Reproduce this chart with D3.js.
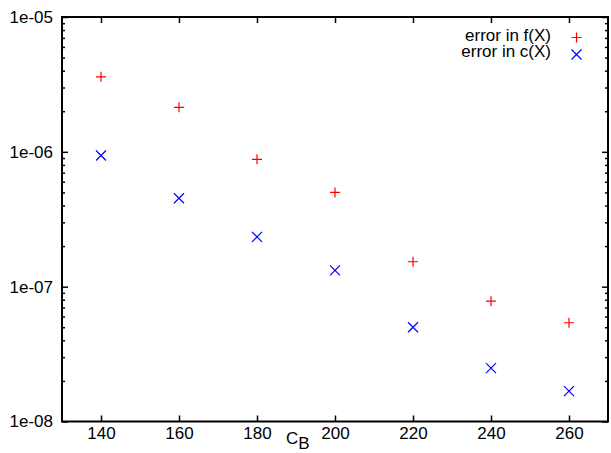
<!DOCTYPE html>
<html><head><meta charset="utf-8">
<script src="https://cdn.jsdelivr.net/npm/d3@7"></script>
<style>body{margin:0;background:#fff}svg{display:block}text{font-family:"Liberation Sans",Arial,Helvetica,sans-serif}</style>
</head><body>
<svg id="c" width="611" height="453"></svg>
<script>
const cb = [140, 160, 180, 200, 220, 240, 260];
const errF = [3.6e-6, 2.14e-6, 8.8e-7, 5.0e-7, 1.53e-7, 7.8e-8, 5.4e-8];
const errC = [9.4e-7, 4.53e-7, 2.34e-7, 1.32e-7, 5.0e-8, 2.49e-8, 1.68e-8];
const xTicks = [140, 160, 180, 200, 220, 240, 260];
const yTicks = [1e-8, 1e-7, 1e-6, 1e-5];
const yTickLabels = ["1e-08", "1e-07", "1e-06", "1e-05"];
const seriesNames = ["error in f(X)", "error in c(X)"];

const svg = d3.select("#c");
const L = 62, R = 608, T = 17, B = 421.5;
const FS = 17;
const x = d3.scaleLinear().domain([130, 270]).range([L, R]);
const y = d3.scaleLog().domain([1e-8, 1e-5]).range([B, T]);

// minor ticks
const minor = [];
for (let e = -8; e < -5; e++) for (let m = 2; m <= 9; m++) minor.push(m * Math.pow(10, e));

const g = svg.append("g");
const xb = d3.axisBottom(x).tickValues(xTicks).tickSize(-6).tickPadding(5.5).tickFormat(d3.format("d"));
const xt = d3.axisTop(x).tickValues(xTicks).tickSize(-6).tickFormat("");
const yl = d3.axisLeft(y).tickValues(yTicks).tickSize(-6).tickPadding(9).tickFormat((d, i) => yTickLabels[i]);
const yr = d3.axisRight(y).tickValues(yTicks).tickSize(-6).tickFormat("");
const ylm = d3.axisLeft(y).tickValues(minor).tickSize(-3).tickFormat("");
const yrm = d3.axisRight(y).tickValues(minor).tickSize(-3).tickFormat("");

function style(sel) {
  sel.select(".domain").remove();
  sel.attr("font-size", FS).attr("font-family", '"Liberation Sans",Arial,Helvetica,sans-serif');
  sel.selectAll("line").attr("stroke", "#000").attr("stroke-width", 1.5);
  sel.selectAll("text").attr("font-size", FS).attr("fill", "#000");
}
g.append("g").attr("transform", `translate(0,${B})`).call(xb).call(style);
g.append("g").attr("transform", `translate(0,${T})`).call(xt).call(style);
g.append("g").attr("transform", `translate(${L},0)`).call(yl).call(style);
g.append("g").attr("transform", `translate(${R},0)`).call(yr).call(style);
g.append("g").attr("transform", `translate(${L},0)`).call(ylm).call(style);
g.append("g").attr("transform", `translate(${R},0)`).call(yrm).call(style);

// border
svg.append("rect").attr("x", L).attr("y", T).attr("width", R - L).attr("height", B - T)
  .attr("fill", "none").attr("stroke", "#000").attr("stroke-width", 2);

// x label
const xl = svg.append("text").attr("x", 286).attr("y", 444).attr("font-size", FS).attr("fill", "#000");
xl.append("tspan").text("C");
xl.append("tspan").attr("dy", 5).text("B");

const s = 5;
function plus(sel, cx, cy, col) {
  sel.append("path").attr("d", `M${cx - s},${cy}H${cx + s}M${cx},${cy - s}V${cy + s}`)
    .attr("stroke", col).attr("stroke-width", 1.2).attr("fill", "none");
}
function cross(sel, cx, cy, col) {
  sel.append("path").attr("d", `M${cx - s},${cy - s}L${cx + s},${cy + s}M${cx - s},${cy + s}L${cx + s},${cy - s}`)
    .attr("stroke", col).attr("stroke-width", 1.2).attr("fill", "none");
}
const pts = svg.append("g");
cb.forEach((c, i) => {
  plus(pts, x(c), y(errF[i]), "#ff0000");
  cross(pts, x(c), y(errC[i]), "#0000ff");
});

// legend
const lg = svg.append("g");
lg.append("text").attr("x", 551).attr("y", 40.5).attr("text-anchor", "end").attr("font-size", FS).text(seriesNames[0]);
lg.append("text").attr("x", 551).attr("y", 56.5).attr("text-anchor", "end").attr("font-size", FS).text(seriesNames[1]);
plus(lg, 576.5, 37.5, "#ff0000");
cross(lg, 576.5, 54.5, "#0000ff");
</script>
</body></html>
